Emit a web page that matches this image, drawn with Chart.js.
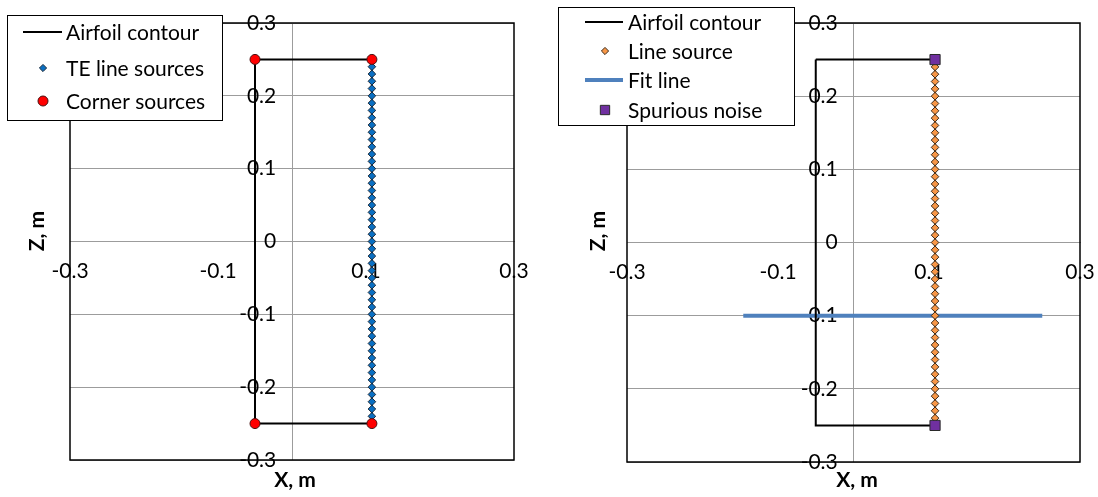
<!DOCTYPE html>
<html><head><meta charset="utf-8">
<script src="https://cdn.jsdelivr.net/npm/chart.js@4.4.1/dist/chart.umd.min.js"></script>
<style>
html,body{margin:0;padding:0;background:#fff;overflow:hidden}
#wrap{position:relative;width:1098px;height:497px}
canvas{position:absolute;top:0}
#c1{left:0}#c2{left:549px}
</style></head><body>
<div id="wrap"><canvas id="c1" width="549" height="497"></canvas><canvas id="c2" width="549" height="497"></canvas></div>
<script>
// ---------- data ----------
const xTickValues = [-0.3, -0.1, 0.1, 0.3];
const xTickLabels = ['-0.3', '-0.1', '0.1', '0.3'];
const zTickValues = [-0.3, -0.2, -0.1, 0, 0.1, 0.2, 0.3];
const zTickLabels = ['-0.3', '-0.2', '-0.1', '0', '0.1', '0.2', '0.3'];

const contourX = [-0.05, 0.108, 0.108, -0.05, -0.05];
const contourZ = [0.25, 0.25, -0.25, -0.25, 0.25];

const sourceX = 0.108;
const sourceZ = [-0.25, -0.24, -0.23, -0.22, -0.21, -0.20, -0.19, -0.18, -0.17, -0.16,
                 -0.15, -0.14, -0.13, -0.12, -0.11, -0.10, -0.09, -0.08, -0.07, -0.06,
                 -0.05, -0.04, -0.03, -0.02, -0.01, 0.00, 0.01, 0.02, 0.03, 0.04,
                 0.05, 0.06, 0.07, 0.08, 0.09, 0.10, 0.11, 0.12, 0.13, 0.14,
                 0.15, 0.16, 0.17, 0.18, 0.19, 0.20, 0.21, 0.22, 0.23, 0.24, 0.25];

const cornerX = [-0.05, 0.108, -0.05, 0.108];
const cornerZ = [0.25, 0.25, -0.25, -0.25];

const fitX = [-0.146, 0.25];
const fitZ = [-0.1, -0.1];

const noiseX = [0.108, 0.108];
const noiseZ = [0.25, -0.25];

const leftLabels = ['Airfoil contour', 'TE line sources', 'Corner sources'];
const rightLabels = ['Airfoil contour', 'Line source', 'Fit line', 'Spurious noise'];
const xTitle = 'X, m';
const zTitle = 'Z, m';

// ---------- helpers ----------
const FONT = 'Lato, "Open Sans", "DejaVu Sans", sans-serif';
const FS = 21;
const GRID = '#9c9c9c';
const pts = (xs, zs) => xs.map((x, i) => ({x: x, y: zs[i]}));
const colPts = (x, zs) => zs.map(z => ({x: x, y: z}));

function drawMarker(ctx, style, r, x, y, fill, stroke, bw) {
  ctx.save();
  ctx.beginPath();
  if (style === 'circle') ctx.arc(x, y, r, 0, Math.PI * 2);
  else if (style === 'rectRot') { ctx.moveTo(x, y - r); ctx.lineTo(x + r, y); ctx.lineTo(x, y + r); ctx.lineTo(x - r, y); ctx.closePath(); }
  else { const h = r * Math.SQRT1_2; ctx.rect(x - h, y - h, 2 * h, 2 * h); }
  ctx.fillStyle = fill; ctx.fill();
  ctx.lineWidth = bw; ctx.strokeStyle = stroke; ctx.stroke();
  ctx.restore();
}

const framePlugin = {
  id: 'frame',
  beforeDatasetsDraw(chart) {
    const {ctx, chartArea: a} = chart;
    ctx.save();
    ctx.strokeStyle = '#000'; ctx.lineWidth = 1.5;
    ctx.strokeRect(a.left, a.top, a.right - a.left, a.bottom - a.top);
    ctx.restore();
  }
};

const overlayPlugin = {
  id: 'overlay',
  afterDraw(chart, args, opts) {
    const ctx = chart.ctx;
    // axis titles
    ctx.save();
    ctx.fillStyle = '#000';
    ctx.font = 'bold ' + FS + 'px ' + FONT;
    ctx.textAlign = 'center'; ctx.textBaseline = 'middle';
    ctx.fillText(xTitle, opts.xTitle[0], opts.xTitle[1]);
    ctx.translate(opts.zTitle[0], opts.zTitle[1]);
    ctx.rotate(-Math.PI / 2);
    ctx.fillText(zTitle, 0, 0);
    ctx.restore();
    // legend
    const L = opts.legend;
    ctx.save();
    ctx.fillStyle = '#fff';
    ctx.fillRect(L.box[0], L.box[1], L.box[2], L.box[3]);
    ctx.strokeStyle = '#000'; ctx.lineWidth = 1;
    ctx.strokeRect(L.box[0] + 0.5, L.box[1] + 0.5, L.box[2], L.box[3]);
    ctx.font = FS + 'px ' + FONT;
    ctx.textAlign = 'left'; ctx.textBaseline = 'middle';
    chart.data.datasets.forEach((ds, i) => {
      const y = L.rows[i];
      if (ds.showLine) {
        ctx.beginPath();
        ctx.moveTo(L.line[0], y); ctx.lineTo(L.line[1], y);
        ctx.strokeStyle = ds.borderColor; ctx.lineWidth = ds.borderWidth;
        ctx.stroke();
      } else {
        drawMarker(ctx, ds.pointStyle, ds.legendRadius, L.marker, y,
                   ds.pointBackgroundColor, ds.pointBorderColor, 1);
      }
      ctx.fillStyle = '#000';
      ctx.fillText(ds.label, L.text, y + 1);
    });
    ctx.restore();
  }
};

function scales() {
  return {
    x: {
      type: 'linear', min: -0.3, max: 0.3, position: {y: 0},
      afterBuildTicks: s => { s.ticks = xTickValues.map(v => ({value: v})); },
      afterFit: s => { s.height = 0; s.paddingLeft = 0; s.paddingRight = 0; s.paddingTop = 0; s.paddingBottom = 0; },
      grid: {display: false, drawTicks: false},
      border: {display: true, color: GRID, width: 1},
      ticks: {color: '#000', font: {family: FONT, size: FS}, padding: 17, maxRotation: 0,
              autoSkip: false, callback: (v, i) => xTickLabels[i]}
    },
    y: {
      type: 'linear', min: -0.3, max: 0.3, position: {x: 0},
      afterBuildTicks: s => { s.ticks = zTickValues.map(v => ({value: v})); },
      afterFit: s => { s.width = 0; s.paddingLeft = 0; s.paddingRight = 0; s.paddingTop = 0; s.paddingBottom = 0; },
      grid: {color: GRID, lineWidth: 1, drawTicks: false},
      border: {display: true, color: GRID, width: 1},
      ticks: {color: '#000', font: {family: FONT, size: FS}, autoSkip: false,
              callback: (v, i) => zTickLabels[i] + '\u2003'}
    }
  };
}

function baseOptions(padding, overlay) {
  return {
    responsive: false, animation: false, devicePixelRatio: 1,
    layout: {padding: padding},
    plugins: {legend: {display: false}, tooltip: {enabled: false}, overlay: overlay},
    scales: scales()
  };
}

const contourDs = (label) => ({
  label: label, data: pts(contourX, contourZ), showLine: true,
  borderColor: '#000', borderWidth: 2, pointRadius: 0, fill: false, order: 5
});

// ---------- left chart ----------
new Chart(document.getElementById('c1'), {
  type: 'scatter',
  data: {datasets: [
    contourDs(leftLabels[0]),
    {label: leftLabels[1], data: colPts(sourceX, sourceZ), showLine: false,
     pointStyle: 'rectRot', pointRadius: 3.8, legendRadius: 3.6,
     pointBackgroundColor: '#0a6fc2', pointBorderColor: '#1b2a3a', pointBorderWidth: 1, order: 2},
    {label: leftLabels[2], data: pts(cornerX, cornerZ), showLine: false,
     pointStyle: 'circle', pointRadius: 5, legendRadius: 5,
     pointBackgroundColor: '#ff0000', pointBorderColor: '#4a1010', pointBorderWidth: 1, order: 1}
  ]},
  options: baseOptions({left: 70, right: 35, top: 23, bottom: 37}, {
    xTitle: [295, 480], zTitle: [37, 231],
    legend: {box: [7, 15, 215, 105], rows: [32, 68, 101], line: [23, 62], marker: 43, text: 66}
  }),
  plugins: [framePlugin, overlayPlugin]
});

// ---------- right chart ----------
new Chart(document.getElementById('c2'), {
  type: 'scatter',
  data: {datasets: [
    contourDs(rightLabels[0]),
    {label: rightLabels[1], data: colPts(sourceX, sourceZ), showLine: false,
     pointStyle: 'rectRot', pointRadius: 3.8, legendRadius: 3.6,
     pointBackgroundColor: '#f79646', pointBorderColor: '#3a2a1a', pointBorderWidth: 1, order: 2},
    {label: rightLabels[2], data: pts(fitX, fitZ), showLine: true,
     borderColor: '#4f81bd', borderWidth: 4, pointRadius: 0, fill: false, order: 6},
    {label: rightLabels[3], data: pts(noiseX, noiseZ), showLine: false,
     pointStyle: 'rect', pointRadius: 7.2, legendRadius: 6.6,
     pointBackgroundColor: '#7030a0', pointBorderColor: '#2a2a2a', pointBorderWidth: 1, order: 1}
  ]},
  options: baseOptions({left: 78, right: 18, top: 23, bottom: 35}, {
    xTitle: [308, 480], zTitle: [49, 231],
    legend: {box: [9, 7, 236, 118], rows: [22, 51, 80, 110], line: [36, 74], marker: 56, text: 79}
  }),
  plugins: [framePlugin, overlayPlugin]
});
</script>
</body></html>
